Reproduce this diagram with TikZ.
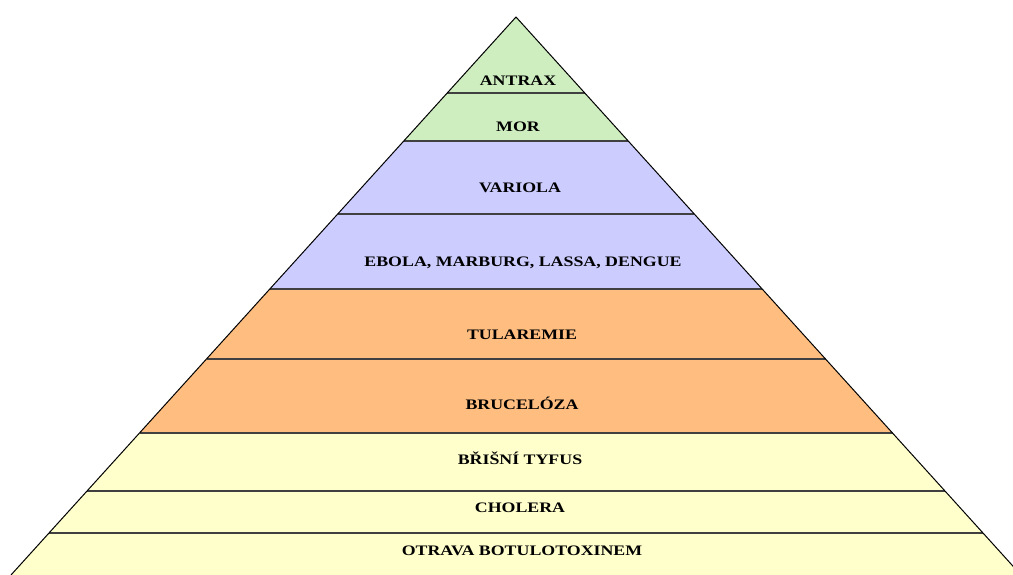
\documentclass[tikz,border=0pt]{standalone}
\usepackage{fontspec}
\setmainfont{Liberation Serif}
\newfontfamily\pyrfont[FakeStretch=1.23]{Liberation Serif}
\definecolor{antraxgreen}{RGB}{206,238,192}
\definecolor{variolablue}{RGB}{204,204,255}
\definecolor{tularorange}{RGB}{255,190,128}
\definecolor{cholyellow}{RGB}{255,255,204}
\begin{document}
\begin{tikzpicture}[x=1pt, y=-1pt,
  sep/.style={draw=black!75, line width=1.2pt},
  lbl/.style={anchor=base, inner sep=0, font=\pyrfont\fontsize{14.5}{16}\selectfont\bfseries}]
\useasboundingbox (0,0) rectangle (1013,575);

% layers, top to bottom
\fill[antraxgreen] (516,17) -- (447.2,93) -- (584.8,93) -- cycle;
\fill[antraxgreen] (447.2,93) -- (403.8,141) -- (628.2,141) -- (584.8,93) -- cycle;
\fill[variolablue] (403.8,141) -- (337.7,214) -- (694.3,214) -- (628.2,141) -- cycle;
\fill[variolablue] (337.7,214) -- (269.8,289) -- (762.2,289) -- (694.3,214) -- cycle;
\fill[tularorange] (269.8,289) -- (206.5,359) -- (825.5,359) -- (762.2,289) -- cycle;
\fill[tularorange] (206.5,359) -- (139.5,433) -- (892.5,433) -- (825.5,359) -- cycle;
\fill[cholyellow] (139.5,433) -- (87,491) -- (945,491) -- (892.5,433) -- cycle;
\fill[cholyellow] (87,491) -- (49,533) -- (983,533) -- (945,491) -- cycle;
\fill[cholyellow] (49,533) -- (11,575) -- (1021,575) -- (983,533) -- cycle;

% dividing lines
\draw[sep] (447.2,93) -- (584.8,93);
\draw[sep] (403.8,141) -- (628.2,141);
\draw[sep] (337.7,214) -- (694.3,214);
\draw[sep] (269.8,289) -- (762.2,289);
\draw[sep] (206.5,359) -- (825.5,359);
\draw[sep] (139.5,433) -- (892.5,433);
\draw[sep] (87,491) -- (945,491);
\draw[sep] (49,533) -- (983,533);

% outline
\draw[black, line width=1pt] (11,575) -- (516,17) -- (1021,575);

\node[lbl] (antrax) at (518,86) {ANTRAX};
\node[lbl] (mor) at (518,132) {MOR};
\node[lbl] (variola) at (520,193) {VARIOLA};
\node[lbl] (ebola) at (523,266) {EBOLA, MARBURG, LASSA, DENGUE};
\node[lbl] (tularemie) at (522,339) {TULAREMIE};
\node[lbl] (bruceloza) at (522,409) {BRUCELÓZA};
\node[lbl] (tyfus) at (520,464) {BŘIŠNÍ TYFUS};
\node[lbl] (cholera) at (520,512) {CHOLERA};
\node[lbl] (otrava) at (522,555) {OTRAVA BOTULOTOXINEM};
\end{tikzpicture}
\end{document}
